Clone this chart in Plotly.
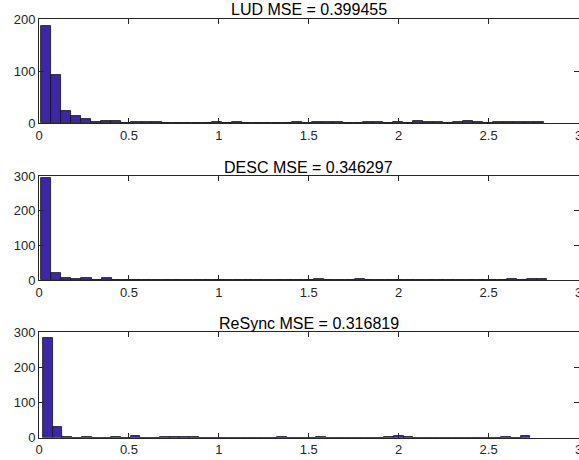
import numpy as np
import plotly.graph_objects as go

# ---- data ----
titles = ["LUD MSE = 0.399455", "DESC MSE = 0.346297", "ReSync MSE = 0.316819"]
bin_starts = [0.011, 0.011, 0.022]
bin_widths = [0.0559, 0.0563, 0.0542]

lud_counts = [187, 93, 24, 14, 8, 1, 4, 4, 0, 2,
              2, 1, 0, 0, 0, 0, 0, 1, 0, 1,
              0, 0, 0, 0, 0, 1, 0, 1, 2, 1,
              0, 0, 2, 1, 0, 2, 0, 3, 2, 2,
              0, 1, 3, 1, 0, 1, 1, 2, 2, 1]
desc_counts = [293, 21, 5, 4, 5, 0, 5, 1, 0, 1,
               0, 0, 0, 0, 0, 0, 0, 1, 0, 0,
               0, 0, 0, 1, 0, 1, 0, 3, 1, 0,
               0, 2, 0, 0, 0, 0, 1, 0, 0, 0,
               0, 1, 1, 0, 0, 0, 2, 0, 2, 3]
resync_counts = [282, 29, 2, 0, 2, 0, 0, 2, 0, 5,
                 0, 0, 1, 1, 2, 3, 0, 0, 0, 0,
                 0, 0, 0, 0, 1, 0, 0, 0, 1, 0,
                 0, 0, 0, 0, 0, 1, 6, 1, 0, 0,
                 0, 0, 0, 0, 0, 0, 0, 1, 0, 4]
all_counts = [lud_counts, desc_counts, resync_counts]

y_max = [200, 300, 300]
x_ticks = [0, 0.5, 1, 1.5, 2, 2.5, 3]

# ---- figure ----
W, H = 579, 460
x_dom = [39 / W, 578.5 / W]
# plot-area top/bottom pixel positions for each panel
panel_px = [(19, 123), (176, 280), (332, 437.7)]

BAR = "#3E26A8"
AX = "#262626"
FONT = "Liberation Sans, Arial, Helvetica, sans-serif"

fig = go.Figure()
annotations = []
for i, (counts, start, width) in enumerate(zip(all_counts, bin_starts, bin_widths)):
    n = len(counts)
    centers = start + width * (np.arange(n) + 0.5)
    xa = "x" if i == 0 else f"x{i+1}"
    ya = "y" if i == 0 else f"y{i+1}"
    fig.add_trace(go.Bar(
        x=centers, y=counts, width=width,
        marker=dict(color=BAR, line=dict(color="#111111", width=0.8)),
        xaxis=xa, yaxis=ya, showlegend=False, hoverinfo="x+y",
    ))
    top, bot = panel_px[i]
    dom = [1 - bot / H, 1 - top / H]
    axkw = dict(showline=True, linecolor=AX, linewidth=1, mirror="ticks",
                ticks="inside", ticklen=5, tickwidth=1, tickcolor=AX,
                showgrid=False, zeroline=False, automargin=False,
                tickfont=dict(family=FONT, size=13, color=AX))
    xname = "xaxis" if i == 0 else f"xaxis{i+1}"
    yname = "yaxis" if i == 0 else f"yaxis{i+1}"
    fig.update_layout({
        xname: dict(domain=x_dom, range=[0, 3], tickvals=x_ticks,
                    anchor=ya, ticklabeloverflow="allow", **axkw),
        yname: dict(domain=dom, range=[0, y_max[i]], dtick=100,
                    anchor=xa, **axkw),
    })
    annotations.append(dict(
        text=titles[i], xref="paper", yref="paper",
        x=(x_dom[0] + x_dom[1]) / 2, y=1 - (top - 9) / H,
        xanchor="center", yanchor="middle", showarrow=False,
        font=dict(family=FONT, size=16, color="#000000"),
    ))

fig.update_layout(
    width=W, height=H, autosize=False,
    margin=dict(l=0, r=0, t=0, b=0, pad=0, autoexpand=False),
    paper_bgcolor="white", plot_bgcolor="white",
    bargap=0, annotations=annotations,
)

fig.write_html(
    "out.html",
    config={"displayModeBar": False},
    post_script="document.body.style.margin='0';document.body.style.overflow='hidden';",
)
